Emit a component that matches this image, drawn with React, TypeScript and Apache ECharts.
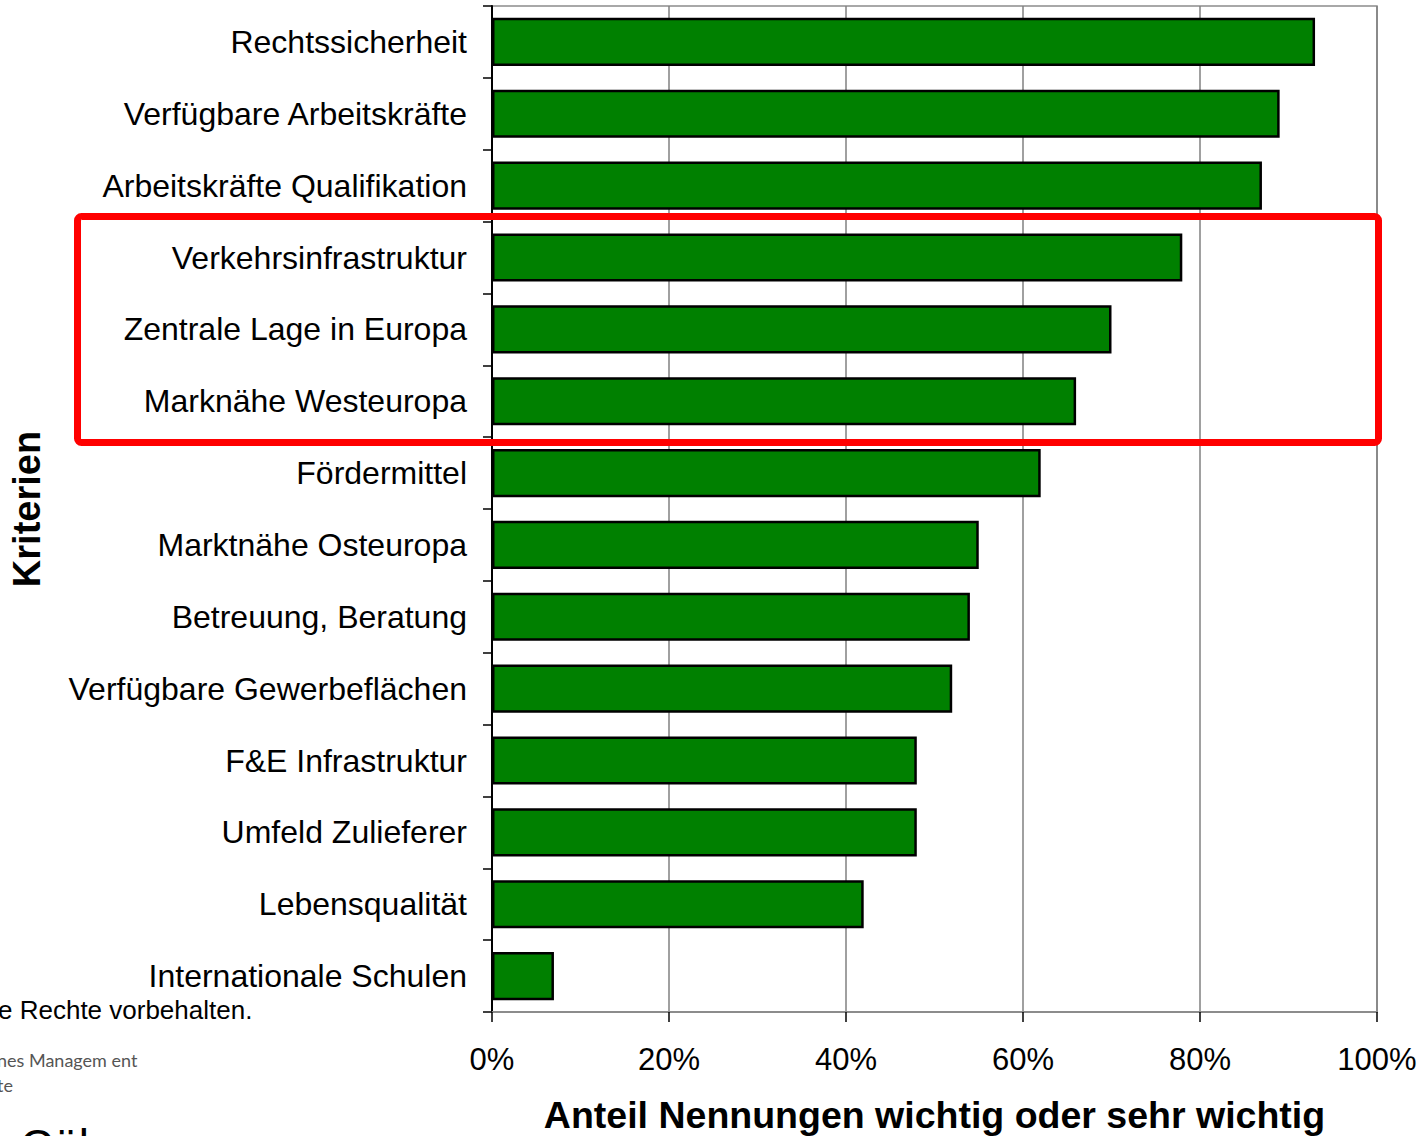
import React, { useEffect, useRef } from "react";
import * as echarts from "echarts";

const categories = [
  "Rechtssicherheit",
  "Verfügbare Arbeitskräfte",
  "Arbeitskräfte Qualifikation",
  "Verkehrsinfrastruktur",
  "Zentrale Lage in Europa",
  "Marknähe Westeuropa",
  "Fördermittel",
  "Marktnähe Osteuropa",
  "Betreuung, Beratung",
  "Verfügbare Gewerbeflächen",
  "F&E Infrastruktur",
  "Umfeld Zulieferer",
  "Lebensqualität",
  "Internationale Schulen",
];

const values = [93, 89, 87, 78, 70, 66, 62, 55, 54, 52, 48, 48, 42, 7];

const xTicks = [0, 20, 40, 60, 80, 100];

const FONT = "Arial";

export default function App() {
  const ref = useRef<HTMLDivElement>(null);

  useEffect(() => {
    if (!ref.current) return;
    const chart = echarts.init(ref.current, undefined, { renderer: "svg" });
    chart.setOption({
      animation: false,
      backgroundColor: "#ffffff",
      grid: {
        left: 492,
        right: 44,
        top: 6,
        bottom: 124,
        show: true,
        borderColor: "#8c8c8c",
        borderWidth: 1.5,
        containLabel: false,
        outerBoundsMode: "none",
      },
      xAxis: {
        type: "value",
        min: xTicks[0],
        max: xTicks[xTicks.length - 1],
        interval: 20,
        name: "Anteil Nennungen wichtig oder sehr wichtig",
        nameLocation: "middle",
        nameGap: 84,
        nameTextStyle: {
          fontFamily: FONT,
          fontSize: 37.5,
          fontWeight: "bold",
          color: "#000",
        },
        axisLine: { show: true, lineStyle: { color: "#8c8c8c", width: 2 } },
        axisTick: { show: true, length: 10, lineStyle: { color: "#000", width: 1.5 } },
        axisLabel: {
          formatter: (v: number) => `${v}%`,
          fontFamily: FONT,
          fontSize: 31,
          color: "#000",
          margin: 32,
        },
        splitLine: { show: true, lineStyle: { color: "#808080", width: 1.5 } },
      },
      yAxis: {
        type: "category",
        data: categories,
        inverse: true,
        name: "Kriterien",
        nameLocation: "middle",
        nameGap: 446,
        nameRotate: 90,
        nameTextStyle: {
          fontFamily: FONT,
          fontSize: 38,
          fontWeight: "bold",
          color: "#000",
        },
        axisLine: { show: true, lineStyle: { color: "#000", width: 2 } },
        axisTick: { show: true, length: 9, lineStyle: { color: "#000", width: 1.5 } },
        axisLabel: {
          fontFamily: FONT,
          fontSize: 32,
          color: "#000",
          margin: 25,
        },
        splitLine: { show: false },
      },
      series: [
        {
          type: "bar",
          data: values,
          barCategoryGap: "33%",
          itemStyle: { color: "#008000", borderColor: "#000", borderWidth: 2.5 },
        },
      ],
      graphic: [
        {
          type: "rect",
          shape: { x: 77.5, y: 216.5, width: 1301, height: 226, r: 4 },
          style: { fill: "none", stroke: "#ff0000", lineWidth: 7 },
          z: 100,
        },
        {
          type: "text",
          x: -2,
          y: 1010,
          style: {
            text: "e Rechte vorbehalten.",
            fontFamily: FONT,
            fontSize: 26,
            fill: "#000",
            verticalAlign: "middle",
          },
        },
        {
          type: "text",
          x: -3,
          y: 1060,
          style: {
            text: "nes Managem ent",
            fontFamily: "Lato, sans-serif",
            fontSize: 18,
            fill: "#555",
            verticalAlign: "middle",
          },
        },
        {
          type: "text",
          x: -3,
          y: 1085,
          style: {
            text: "te",
            fontFamily: "Lato, sans-serif",
            fontSize: 18,
            fill: "#555",
            verticalAlign: "middle",
          },
        },
        {
          type: "text",
          x: 20,
          y: 1123,
          style: {
            text: "Cöl",
            fontFamily: FONT,
            fontSize: 46,
            fill: "#000",
            verticalAlign: "top",
          },
        },
      ],
    });
    return () => chart.dispose();
  }, []);

  return (
    <div
      ref={ref}
      style={{ position: "absolute", left: 0, top: 0, width: 1421, height: 1136, overflow: "hidden" }}
    />
  );
}
